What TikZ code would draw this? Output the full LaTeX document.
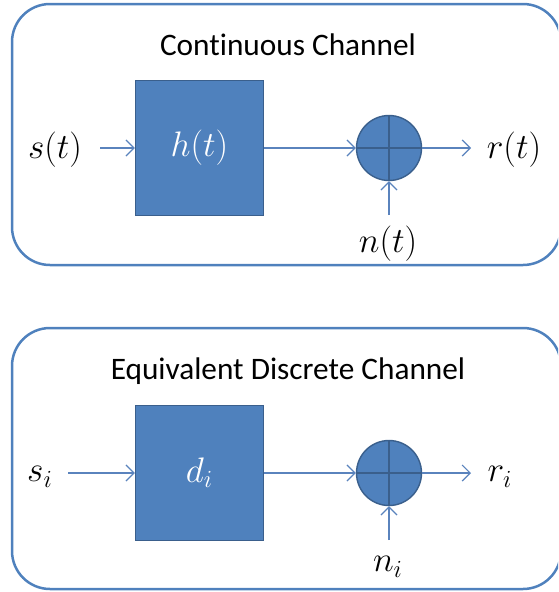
\documentclass[tikz,border=0pt]{standalone}
\usepackage{fontspec}
\setmainfont[Ligatures=NoCommon]{Carlito}
\usetikzlibrary{arrows.meta}
\definecolor{chanblue}{HTML}{4F81BD}
\definecolor{edgeblue}{HTML}{3A5F8C}
\definecolor{wireblue}{HTML}{5A83BD}
\newcommand{\sigtext}[1]{\scalebox{2.05}{\LARGE$#1$}}

\begin{document}
\begin{tikzpicture}[x=1pt,y=-1pt,
    frame/.style={draw=chanblue, line width=2.5pt, rounded corners=38pt},
    blockbox/.style={draw=edgeblue, line width=1.4pt, fill=chanblue, minimum width=128pt,
        minimum height=135pt, inner sep=0pt, text=white},
    sumnode/.style={circle, draw=edgeblue, line width=1.4pt, fill=chanblue, minimum size=65pt, inner sep=0pt},
    sig/.style={draw=wireblue, line width=1.2pt, -{Straight Barb[length=8pt,width=16pt,line width=1.2pt]}},
    label/.style={inner sep=0pt},
    heading/.style={font=\fontsize{31.3}{36}\selectfont, inner sep=0pt}]
    \clip (0,0) rectangle (558,592);

    % continuous channel
    \draw[frame] (12,4) rectangle (561,265);
    \node[heading] (title1) at (288,45) {Continuous Channel};
    \node[blockbox] (h) at (199.5,148) {\sigtext{h(t)}};
    \node[sumnode] (sum1) at (389,148) {};
    \draw[edgeblue, line width=1.2pt] (sum1.north) -- (sum1.south) (sum1.west) -- (sum1.east);
    \node[label] (s) at (55,150) {\sigtext{s(t)}};
    \node[label] (r) at (514,150) {\sigtext{r(t)}};
    \node[label] (n) at (388,244) {\sigtext{n(t)}};
    \coordinate (sIn) at (100,148);
    \coordinate (rOut) at (471,148);
    \coordinate (nIn) at (389,215);
    \draw[sig] (sIn) -- (h.west);
    \draw[sig] (h.east) -- (sum1.west);
    \draw[sig] (sum1.east) -- (rOut);
    \draw[sig] (nIn) -- (sum1.south);

    % discrete channel
    \draw[frame] (12,328) rectangle (561,589);
    \node[heading] (title2) at (288,371) {Equivalent Discrete Channel};
    \node[blockbox] (d) at (199.5,473) {\sigtext{d_i}};
    \node[sumnode] (sum2) at (389,473) {};
    \draw[edgeblue, line width=1.2pt] (sum2.north) -- (sum2.south) (sum2.west) -- (sum2.east);
    \node[label] (si) at (40,477) {\sigtext{s_i}};
    \node[label] (ri) at (500,477) {\sigtext{r_i}};
    \node[label] (ni) at (388,567) {\sigtext{n_i}};
    \coordinate (siIn) at (68,473);
    \coordinate (riOut) at (471,473);
    \coordinate (niIn) at (389,540);
    \draw[sig] (siIn) -- (d.west);
    \draw[sig] (d.east) -- (sum2.west);
    \draw[sig] (sum2.east) -- (riOut);
    \draw[sig] (niIn) -- (sum2.south);
\end{tikzpicture}
\end{document}
